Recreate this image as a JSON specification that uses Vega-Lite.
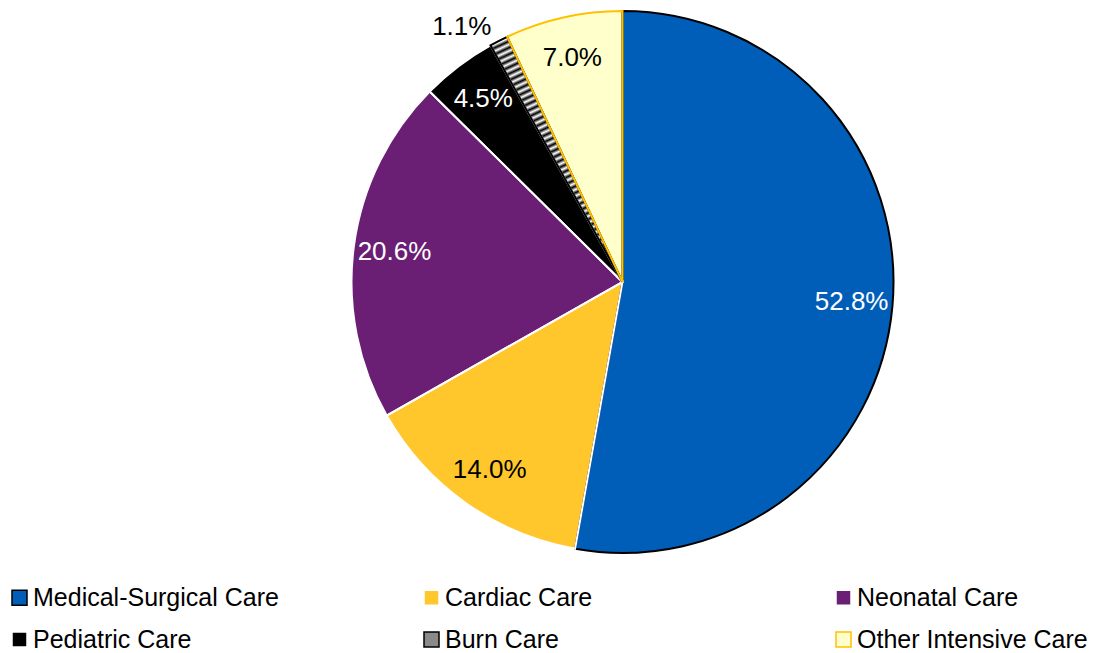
{
  "$schema": "https://vega.github.io/schema/vega-lite/v6.json",
  "width": 965,
  "height": 564,
  "autosize": {"type": "none"},
  "padding": {"left": 140, "top": 0, "right": 0, "bottom": 89},
  "background": "white",
  "config": {
    "view": {"stroke": null},
    "font": "Liberation Sans",
    "legend": {
      "orient": "none",
      "legendX": -133,
      "legendY": 585,
      "direction": "horizontal",
      "columns": 3,
      "gridAlign": "all",
      "columnPadding": 140,
      "rowPadding": 16,
      "padding": 0,
      "symbolType": "square",
      "symbolSize": 225,
      "symbolStrokeWidth": 1.5,
      "labelFontSize": 25,
      "labelFont": "Liberation Sans",
      "labelColor": "#000000",
      "labelOffset": 1,
      "labelLimit": 400
    }
  },
  "data": {
    "values": [
      {"cat": "Medical-Surgical Care", "share": 0.528, "ord": 1},
      {"cat": "Cardiac Care", "share": 0.140, "ord": 2},
      {"cat": "Neonatal Care", "share": 0.206, "ord": 3},
      {"cat": "Pediatric Care", "share": 0.045, "ord": 4},
      {"cat": "Burn Care", "share": 0.011, "ord": 5},
      {"cat": "Other Intensive Care", "share": 0.070, "ord": 6}
    ]
  },
  "encoding": {
    "theta": {"field": "share", "type": "quantitative", "stack": true},
    "order": {"field": "ord", "type": "quantitative"}
  },
  "layer": [
    {
      "mark": {"type": "arc", "outerRadius": 271, "strokeWidth": 0},
      "encoding": {
        "color": {
          "field": "cat",
          "type": "nominal",
          "scale": {
            "domain": ["Medical-Surgical Care", "Cardiac Care", "Neonatal Care", "Pediatric Care", "Burn Care", "Other Intensive Care"],
            "range": ["#005EB8", "#FFC72C", "#6A1E74", "#000000", "#8a8a8a", "#FFFFCC"]
          },
          "legend": {"title": null}
        }
      }
    },
    {
      "mark": {
        "type": "arc",
        "outerRadius": 271,
        "strokeWidth": 0,
        "fill": {
          "gradient": "linear",
          "x1": 0, "y1": 0, "x2": 0.25, "y2": 1,
          "stops": [
            {"offset": 0, "color": "#000000"}, {"offset": 0.0125, "color": "#ffffff"},
            {"offset": 0.025, "color": "#000000"}, {"offset": 0.0375, "color": "#ffffff"},
            {"offset": 0.05, "color": "#000000"}, {"offset": 0.0625, "color": "#ffffff"},
            {"offset": 0.075, "color": "#000000"}, {"offset": 0.0875, "color": "#ffffff"},
            {"offset": 0.1, "color": "#000000"}, {"offset": 0.1125, "color": "#ffffff"},
            {"offset": 0.125, "color": "#000000"}, {"offset": 0.1375, "color": "#ffffff"},
            {"offset": 0.15, "color": "#000000"}, {"offset": 0.1625, "color": "#ffffff"},
            {"offset": 0.175, "color": "#000000"}, {"offset": 0.1875, "color": "#ffffff"},
            {"offset": 0.2, "color": "#000000"}, {"offset": 0.2125, "color": "#ffffff"},
            {"offset": 0.225, "color": "#000000"}, {"offset": 0.2375, "color": "#ffffff"},
            {"offset": 0.25, "color": "#000000"}, {"offset": 0.2625, "color": "#ffffff"},
            {"offset": 0.275, "color": "#000000"}, {"offset": 0.2875, "color": "#ffffff"},
            {"offset": 0.3, "color": "#000000"}, {"offset": 0.3125, "color": "#ffffff"},
            {"offset": 0.325, "color": "#000000"}, {"offset": 0.3375, "color": "#ffffff"},
            {"offset": 0.35, "color": "#000000"}, {"offset": 0.3625, "color": "#ffffff"},
            {"offset": 0.375, "color": "#000000"}, {"offset": 0.3875, "color": "#ffffff"},
            {"offset": 0.4, "color": "#000000"}, {"offset": 0.4125, "color": "#ffffff"},
            {"offset": 0.425, "color": "#000000"}, {"offset": 0.4375, "color": "#ffffff"},
            {"offset": 0.45, "color": "#000000"}, {"offset": 0.4625, "color": "#ffffff"},
            {"offset": 0.475, "color": "#000000"}, {"offset": 0.4875, "color": "#ffffff"},
            {"offset": 0.5, "color": "#000000"}, {"offset": 0.5125, "color": "#ffffff"},
            {"offset": 0.525, "color": "#000000"}, {"offset": 0.5375, "color": "#ffffff"},
            {"offset": 0.55, "color": "#000000"}, {"offset": 0.5625, "color": "#ffffff"},
            {"offset": 0.575, "color": "#000000"}, {"offset": 0.5875, "color": "#ffffff"},
            {"offset": 0.6, "color": "#000000"}, {"offset": 0.6125, "color": "#ffffff"},
            {"offset": 0.625, "color": "#000000"}, {"offset": 0.6375, "color": "#ffffff"},
            {"offset": 0.65, "color": "#000000"}, {"offset": 0.6625, "color": "#ffffff"},
            {"offset": 0.675, "color": "#000000"}, {"offset": 0.6875, "color": "#ffffff"},
            {"offset": 0.7, "color": "#000000"}, {"offset": 0.7125, "color": "#ffffff"},
            {"offset": 0.725, "color": "#000000"}, {"offset": 0.7375, "color": "#ffffff"},
            {"offset": 0.75, "color": "#000000"}, {"offset": 0.7625, "color": "#ffffff"},
            {"offset": 0.775, "color": "#000000"}, {"offset": 0.7875, "color": "#ffffff"},
            {"offset": 0.8, "color": "#000000"}, {"offset": 0.8125, "color": "#ffffff"},
            {"offset": 0.825, "color": "#000000"}, {"offset": 0.8375, "color": "#ffffff"},
            {"offset": 0.85, "color": "#000000"}, {"offset": 0.8625, "color": "#ffffff"},
            {"offset": 0.875, "color": "#000000"}, {"offset": 0.8875, "color": "#ffffff"},
            {"offset": 0.9, "color": "#000000"}, {"offset": 0.9125, "color": "#ffffff"},
            {"offset": 0.925, "color": "#000000"}, {"offset": 0.9375, "color": "#ffffff"},
            {"offset": 0.95, "color": "#000000"}, {"offset": 0.9625, "color": "#ffffff"},
            {"offset": 0.975, "color": "#000000"}, {"offset": 0.9875, "color": "#ffffff"},
            {"offset": 1, "color": "#000000"}
          ]
        }
      },
      "encoding": {
        "opacity": {"condition": {"test": "datum.cat === 'Burn Care'", "value": 1}, "value": 0}
      }
    },
    {
      "mark": {"type": "arc", "outerRadius": 271, "fillOpacity": 0, "strokeWidth": 2},
      "encoding": {
        "stroke": {
          "field": "cat",
          "type": "nominal",
          "scale": {
            "domain": ["Medical-Surgical Care", "Cardiac Care", "Neonatal Care", "Pediatric Care", "Burn Care", "Other Intensive Care"],
            "range": ["#000000", "#ffffff", "#ffffff", "#ffffff", "#000000", "#FFC000"]
          },
          "legend": {"title": null}
        }
      }
    },
    {
      "mark": {"type": "text", "radius": 230, "fontSize": 26, "font": "Liberation Sans"},
      "encoding": {
        "text": {
          "condition": {"test": "datum.cat !== 'Burn Care'", "field": "share", "type": "quantitative", "format": ".1%"},
          "value": ""
        },
        "color": {
          "condition": {"test": "datum.cat === 'Medical-Surgical Care' || datum.cat === 'Neonatal Care' || datum.cat === 'Pediatric Care'", "value": "#ffffff"},
          "value": "#000000"
        }
      }
    },
    {
      "mark": {"type": "text", "radius": 287, "fontSize": 26, "font": "Liberation Sans", "align": "right", "color": "#000000"},
      "encoding": {
        "text": {
          "condition": {"test": "datum.cat === 'Burn Care'", "field": "share", "type": "quantitative", "format": ".1%"},
          "value": ""
        }
      }
    }
  ]
}
